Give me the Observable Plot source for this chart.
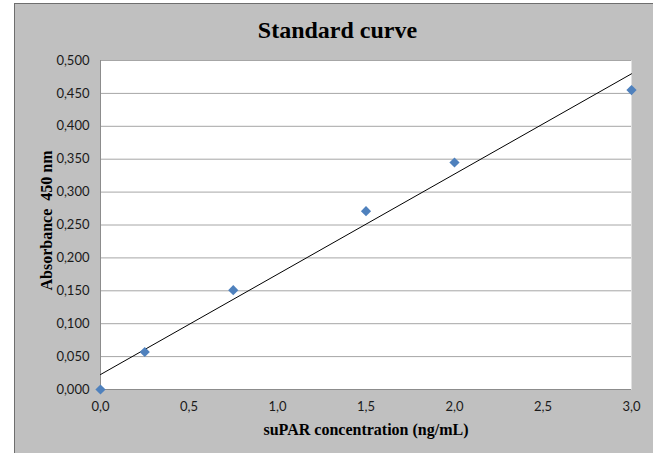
<!DOCTYPE html>
<html>
<head>
<meta charset="utf-8">
<script src="https://cdn.jsdelivr.net/npm/d3@7"></script>
<script src="https://cdn.jsdelivr.net/npm/@observablehq/plot@0.6"></script>
<style>
  html, body { margin: 0; padding: 0; background: #ffffff; }
  #wrap { position: relative; width: 653px; height: 453px; overflow: hidden; }
  #bg { position: absolute; left: 14px; top: 3px; width: 660px; height: 470px;
        background: #c0c0c0; border-left: 1px solid #6e6e6e; border-top: 1px solid #6e6e6e; }
  #chart { position: absolute; left: 0; top: 0; }
  #chart svg { background: transparent !important; }
</style>
</head>
<body>
<div id="wrap"><div id="bg"></div><div id="chart"></div></div>
<script>
const concentration = [0, 0.25, 0.75, 1.5, 2.0, 3.0];
const absorbance = [0.000, 0.057, 0.151, 0.271, 0.345, 0.455];
const xTicks = [0, 0.5, 1.0, 1.5, 2.0, 2.5, 3.0];
const yTicks = [0, 0.05, 0.10, 0.15, 0.20, 0.25, 0.30, 0.35, 0.40, 0.45, 0.50];
const titleText = "Standard curve";
const xLabel = "suPAR concentration (ng/mL)";
const yLabel = "Absorbance  450 nm";

const data = concentration.map((c, i) => ({x: c, y: absorbance[i]}));
const comma = (fmt) => (d) => d3.format(fmt)(d).replace(".", ",");
const tickFont = "Lato, 'Open Sans', sans-serif";

const chart = Plot.plot({
  width: 653,
  height: 453,
  marginLeft: 100,
  marginRight: 22,
  marginTop: 60,
  marginBottom: 64,
  style: {background: "transparent", fontFamily: tickFont, color: "#1a1a1a"},
  x: {domain: [0, 3]},
  y: {domain: [0, 0.5]},
  marks: [
    Plot.frame({fill: "white", stroke: null}),
    Plot.ruleY(yTicks, {stroke: "#a6a6a6", strokeWidth: 1}),
    Plot.ruleY([0], {stroke: "#8c8c8c", strokeWidth: 1}),
    Plot.ruleX([0], {stroke: "#8c8c8c", strokeWidth: 1}),
    Plot.axisX({ticks: xTicks, tickFormat: comma(".1f"), tickSize: 0, tickPadding: 12, label: null,
      fontSize: 13, fontFamily: tickFont, fill: "#1a1a1a"}),
    Plot.axisY({ticks: yTicks, tickFormat: comma(".3f"), tickSize: 0, tickPadding: 11, label: null,
      fontSize: 13, fontFamily: tickFont, fill: "#1a1a1a"}),
    Plot.linearRegressionY(data, {x: "x", y: "y", stroke: "#000", strokeWidth: 1, ci: 0}),
    Plot.dot(data, {x: "x", y: "y", symbol: "diamond2", r: 4.6, fill: "#4f81bd", stroke: null}),
    Plot.text([titleText], {frameAnchor: "top", dx: -28.5, dy: -30, text: d => d, lineAnchor: "middle",
      fontSize: 24, fontWeight: "bold", fontFamily: "'Liberation Serif', 'Times New Roman', serif", fill: "#000"}),
    Plot.text([xLabel], {frameAnchor: "bottom", dy: 40, text: d => d, lineAnchor: "middle",
      fontSize: 16, fontWeight: "bold", fontFamily: "'Liberation Serif', 'Times New Roman', serif", fill: "#000"}),
    Plot.text([yLabel], {frameAnchor: "left", dx: -54, dy: -4.5, rotate: -90, text: d => d, lineAnchor: "middle",
      textAnchor: "middle", fontSize: 16, fontWeight: "bold", fontFamily: "'Liberation Serif', 'Times New Roman', serif", fill: "#000"})
  ]
});
document.getElementById("chart").appendChild(chart);
</script>
</body>
</html>
